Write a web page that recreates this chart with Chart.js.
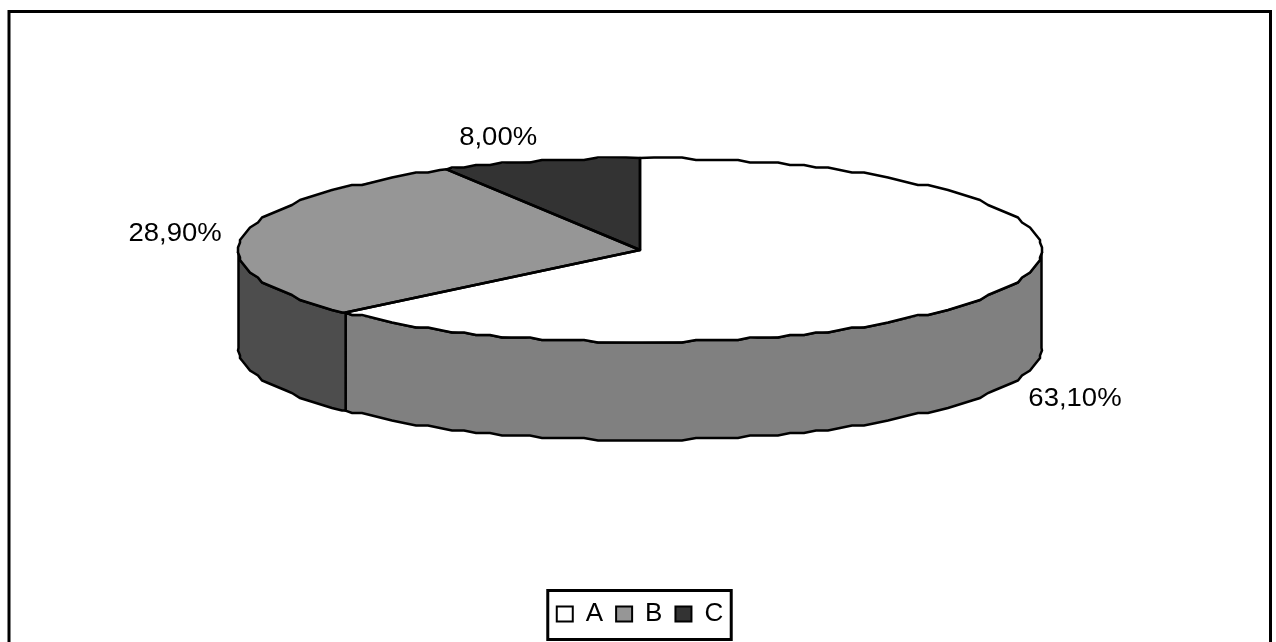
<!DOCTYPE html>
<html lang="pt">
<head>
<meta charset="UTF-8">
<title>Pizza A B C</title>
<script src="https://cdn.jsdelivr.net/npm/chart.js"></script>
<style>
  html, body { margin: 0; background: #fff; }
  #wrap { width: 1276px; height: 642px; }
</style>
</head>
<body>
<div id="wrap"><canvas id="pizza"></canvas></div>
<script>
const categorias = ['A', 'B', 'C'];
const valores = [63.1, 28.9, 8.0];
const coresTopo = ['#ffffff', '#969696', '#333333'];
const coresLado = ['#808080', '#4d4d4d', '#1a1a1a'];

// tilt and thickness of the disc
const achatar = 0.2292;
const altura = 98;
const centroY = 250;
// where each percentage sits relative to its slice's rim midpoint
const deslocRotulos = [[67, 112.5], [-68.5, -1], [-42, -22.5]];
const fonte = '25px "Liberation Sans", Arial, sans-serif';
const passoBorda = Math.PI / 90;

function rotulo(v) {
  return v.toFixed(2).replace('.', ',') + '%';
}

// rim of the disc as a coarse stepped polyline from angle a to angle b,
// sampled on a fixed angle grid so neighbouring pieces share their vertices
function borda(ctx, cx, cy, r, a, b, mover) {
  const angulos = [a];
  const sobe = b > a;
  let k = sobe ? Math.floor(a / passoBorda) + 1 : Math.ceil(a / passoBorda) - 1;
  while (sobe ? k * passoBorda < b : k * passoBorda > b) {
    angulos.push(k * passoBorda);
    k += sobe ? 1 : -1;
  }
  angulos.push(b);
  angulos.forEach((t, i) => {
    let x = cx + r * Math.cos(t);
    let y = cy + r * achatar * Math.sin(t);
    if (i > 0 && i < angulos.length - 1) {
      x = Math.round(x / 2) * 2;
      y = cy + Math.round((y - cy) / 2.5) * 2.5;
    }
    if (i === 0 && mover) ctx.moveTo(x, y);
    else ctx.lineTo(x, y);
  });
}

const pizza3d = {
  id: 'pizza3d',
  // the disc centre sits well above the middle of the free area
  afterLayout(chart) {
    const area = chart.chartArea;
    area.top = 0;
    area.bottom = centroY * 2;
    area.height = centroY * 2;
  },
  beforeDatasetsDraw(chart) {
    const ctx = chart.ctx;
    const arcs = chart.getDatasetMeta(0).data;
    const cx = arcs[0].x, cy = arcs[0].y, r = arcs[0].outerRadius;
    ctx.save();
    // side wall, only the part facing the viewer
    arcs.forEach((arc, i) => {
      const ini = Math.max(arc.startAngle, 0);
      const fim = Math.min(arc.endAngle, Math.PI);
      if (fim <= ini) return;
      ctx.beginPath();
      borda(ctx, cx, cy, r, ini, fim, true);
      borda(ctx, cx, cy + altura, r, fim, ini, false);
      ctx.closePath();
      ctx.fillStyle = coresLado[i];
      ctx.fill();
      ctx.lineWidth = 2.5;
      ctx.strokeStyle = '#000';
      ctx.stroke();
    });
    // the top is the library's own arcs, flattened
    ctx.translate(cx, cy);
    ctx.scale(1, achatar);
    ctx.translate(-cx, -cy);
  },
  afterDatasetsDraw(chart) {
    const ctx = chart.ctx;
    ctx.restore();
    const arcs = chart.getDatasetMeta(0).data;
    ctx.save();
    ctx.lineWidth = 2.5;
    ctx.strokeStyle = '#000';
    ctx.lineJoin = 'round';
    arcs.forEach((arc) => {
      ctx.beginPath();
      ctx.moveTo(arc.x, arc.y);
      borda(ctx, arc.x, arc.y, arc.outerRadius, arc.startAngle, arc.endAngle, false);
      ctx.closePath();
      ctx.stroke();
    });
    // percentages, slightly widened
    ctx.fillStyle = '#000';
    ctx.font = fonte;
    ctx.textAlign = 'center';
    ctx.textBaseline = 'middle';
    arcs.forEach((arc, i) => {
      const meio = (arc.startAngle + arc.endAngle) / 2;
      const x = arc.x + arc.outerRadius * Math.cos(meio) + deslocRotulos[i][0];
      const y = arc.y + arc.outerRadius * achatar * Math.sin(meio) + deslocRotulos[i][1];
      ctx.save();
      ctx.translate(x, y);
      ctx.scale(1.1, 1);
      ctx.fillText(rotulo(valores[i]), 0, 0);
      ctx.restore();
    });
    ctx.restore();
  },
  afterDraw(chart) {
    const ctx = chart.ctx;
    const caixas = chart.legend.legendHitBoxes;
    const pri = caixas[0];
    const ult = caixas[caixas.length - 1];
    ctx.save();
    ctx.strokeStyle = '#000';
    ctx.lineWidth = 3;
    // outer frame runs past the bottom of the canvas
    ctx.strokeRect(9, 11.5, 1261.5, 660);
    ctx.strokeRect(pri.left - 9, pri.top - 10.5, ult.left + ult.width - pri.left + 17, pri.height + 23);
    ctx.restore();
  }
};

new Chart(document.getElementById('pizza'), {
  type: 'pie',
  data: {
    labels: categorias,
    datasets: [{
      data: valores,
      backgroundColor: coresTopo,
      borderWidth: 0,
      radius: 401.5
    }]
  },
  plugins: [pizza3d],
  options: {
    responsive: true,
    maintainAspectRatio: false,
    animation: false,
    layout: { padding: { left: 4, right: 0, top: 0, bottom: 5 } },
    plugins: {
      tooltip: { enabled: false },
      legend: {
        position: 'bottom',
        labels: {
          color: '#000',
          font: { family: '"Liberation Sans", Arial, sans-serif', size: 26 },
          boxWidth: 16,
          boxHeight: 15,
          padding: 13,
          generateLabels() {
            return categorias.map((c, i) => ({
              text: c,
              fillStyle: coresTopo[i],
              strokeStyle: '#000',
              lineWidth: 2,
              index: i
            }));
          }
        }
      }
    }
  }
});
</script>
</body>
</html>
